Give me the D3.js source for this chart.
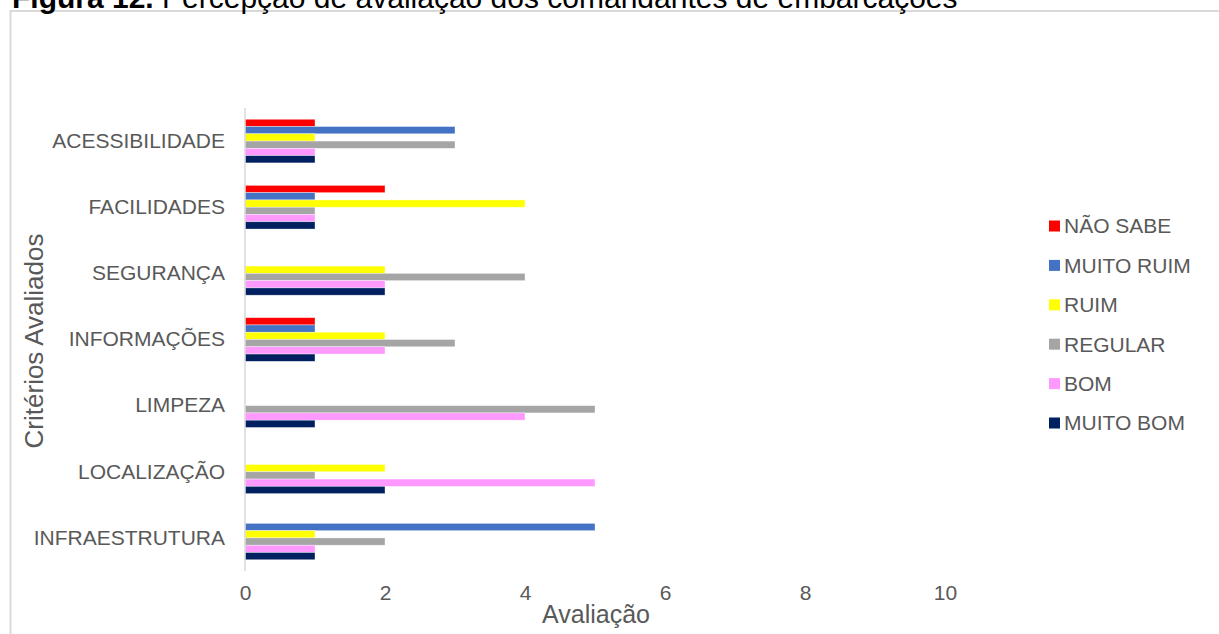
<!DOCTYPE html>
<html>
<head>
<meta charset="utf-8">
<script src="https://cdn.jsdelivr.net/npm/d3@7"></script>
<style>
  html, body { margin: 0; padding: 0; background: #fff; }
  svg { display: block; font-family: "Liberation Sans", Arial, sans-serif; }
</style>
</head>
<body>
<svg id="chart" width="1219" height="634"></svg>
<script>
// ---- data ----
const categories = ["ACESSIBILIDADE", "FACILIDADES", "SEGURANÇA", "INFORMAÇÕES", "LIMPEZA", "LOCALIZAÇÃO", "INFRAESTRUTURA"];
const seriesNames = ["NÃO SABE", "MUITO RUIM", "RUIM", "REGULAR", "BOM", "MUITO BOM"];
const seriesColors = ["#FF0000", "#4472C4", "#FFFF00", "#A5A5A5", "#FF99FF", "#002060"];
const naoSabe   = [1, 2, 0, 1, 0, 0, 0];
const muitoRuim = [3, 1, 0, 1, 0, 0, 5];
const ruim      = [1, 4, 2, 2, 0, 2, 1];
const regular   = [3, 1, 4, 3, 5, 1, 2];
const bom       = [1, 1, 2, 2, 4, 5, 1];
const muitoBom  = [1, 1, 2, 1, 1, 2, 1];
const xTicks = [0, 2, 4, 6, 8, 10];
const titleBold = "Figura 12.";
const titleRest = " Percepção de avaliação dos comandantes de embarcações";
const xTitle = "Avaliação";
const yTitle = "Critérios Avaliados";

const seriesValues = [naoSabe, muitoRuim, ruim, regular, bom, muitoBom];

const svg = d3.select("#chart");
const textColor = "#595959";

// outer chart border
svg.append("rect")
  .attr("x", 10.5).attr("y", 11)
  .attr("width", 1240).attr("height", 660)
  .attr("fill", "none").attr("stroke", "#D9D9D9").attr("stroke-width", 2);

// title (partially cut at top, as in the reference)
const title = svg.append("text")
  .attr("x", 12).attr("y", 8)
  .attr("font-size", 30).attr("fill", "#000");
title.append("tspan").attr("font-weight", "bold").text(titleBold);
title.append("tspan").text(titleRest);

// scales
const x = d3.scaleLinear().domain([0, 10]).range([245, 945]);
const y = d3.scaleBand().domain(categories).range([108, 571])
  .paddingInner(0.34).paddingOuter(0.17);
const ySub = d3.scaleBand().domain(seriesNames).range([0, y.bandwidth()]);

// bars
const groups = svg.append("g").selectAll("g")
  .data(categories)
  .join("g")
  .attr("transform", d => `translate(0,${y(d)})`);

groups.selectAll("rect")
  .data((c, ci) => seriesNames.map((s, si) => ({ s, si, v: seriesValues[si][ci] })))
  .join("rect")
  .filter(d => d.v > 0)
  .attr("x", x(0))
  .attr("y", d => ySub(d.s))
  .attr("width", d => x(d.v) - x(0))
  .attr("height", ySub.bandwidth())
  .attr("fill", d => seriesColors[d.si])
  .attr("stroke", "#fff")
  .attr("stroke-opacity", 0.6)
  .attr("stroke-width", 0.6);

// y axis line
svg.append("line")
  .attr("x1", x(0)).attr("x2", x(0))
  .attr("y1", 108).attr("y2", 571)
  .attr("stroke", "#D9D9D9").attr("stroke-width", 1.5);

// category labels
const yAxis = d3.axisLeft(y).tickSize(0).tickPadding(20);
const yg = svg.append("g").attr("transform", `translate(${x(0)},0)`).call(yAxis);
yg.select(".domain").remove();
yg.selectAll("text")
  .attr("font-size", 21)
  .attr("font-family", "Liberation Sans, Arial, sans-serif")
  .attr("fill", textColor);

// x tick labels
const xAxis = d3.axisBottom(x).tickValues(xTicks).tickSize(0).tickPadding(0).tickFormat(d3.format("d"));
const xg = svg.append("g").attr("transform", `translate(0,585)`).call(xAxis);
xg.select(".domain").remove();
xg.selectAll("text")
  .attr("font-size", 21)
  .attr("font-family", "Liberation Sans, Arial, sans-serif")
  .attr("fill", textColor);

// axis titles
svg.append("text")
  .attr("x", 596).attr("y", 623)
  .attr("text-anchor", "middle")
  .attr("font-size", 25).attr("fill", textColor)
  .text(xTitle);

svg.append("text")
  .attr("transform", "translate(43,341) rotate(-90)")
  .attr("text-anchor", "middle")
  .attr("font-size", 26).attr("fill", textColor)
  .text(yTitle);

// legend
const legend = svg.append("g").attr("transform", "translate(1049,226)");
const li = legend.selectAll("g").data(seriesNames).join("g")
  .attr("transform", (d, i) => `translate(0,${i * 39.4})`);
li.append("rect")
  .attr("x", 0).attr("y", -5.5).attr("width", 11).attr("height", 11)
  .attr("fill", (d, i) => seriesColors[i]);
li.append("text")
  .attr("x", 15).attr("y", 0).attr("dy", "0.35em")
  .attr("font-size", 21).attr("fill", textColor)
  .text(d => d);
</script>
</body>
</html>
